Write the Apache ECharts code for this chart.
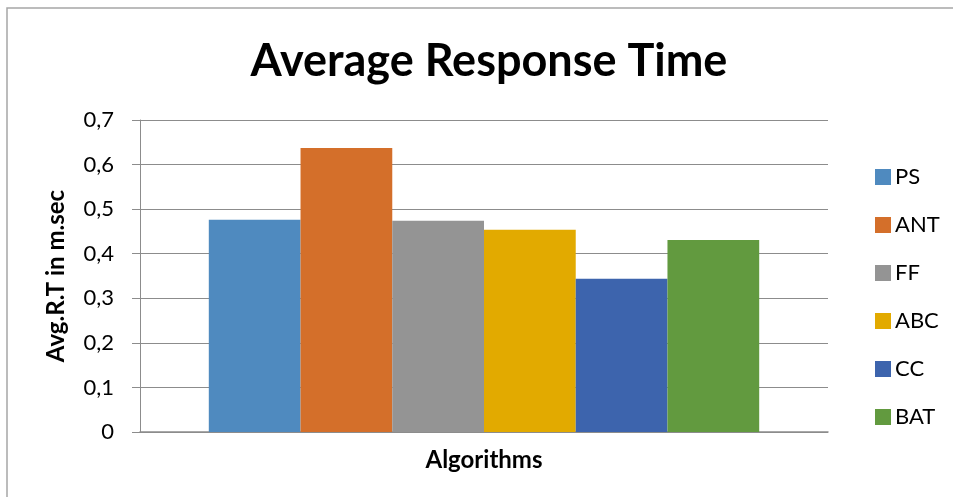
<!DOCTYPE html>
<html>
<head>
<meta charset="utf-8">
<script src="https://cdn.jsdelivr.net/npm/echarts@6/dist/echarts.min.js"></script>
<style>html,body{margin:0;padding:0;background:#fff;}#c{width:953px;height:497px;}</style>
</head>
<body>
<div id="c"></div>
<script>
const categories = ['Algorithms'];
const seriesNames = ['PS', 'ANT', 'FF', 'ABC', 'CC', 'BAT'];
const seriesValues = [[0.476], [0.637], [0.474], [0.454], [0.344], [0.431]];
const colors = ['#4f8abf', '#d46f2a', '#949494', '#e2aa00', '#3d64ad', '#629a3f'];
const yTicks = { min: 0, max: 0.7, interval: 0.1 };

const chart = echarts.init(document.getElementById('c'));
const FONT = 'Lato, "Open Sans", sans-serif';
chart.setOption({
  animation: false,
  graphic: [{
    type: 'rect', silent: true, z: -1,
    shape: { x: 7, y: 8, width: 960, height: 500 },
    style: { fill: 'none', stroke: '#a6a6a6', lineWidth: 1.5 }
  }],
  title: {
    text: 'Average Response Time',
    left: 484, top: 34, textAlign: 'center',
    textStyle: { fontFamily: FONT, fontSize: 45, fontWeight: 'bold', color: '#000' }
  },
  grid: { left: 140, right: 125, top: 120, bottom: 65, containLabel: false },
  legend: {
    orient: 'vertical', left: 870, top: 161, itemGap: 26,
    itemWidth: 16, itemHeight: 16, icon: 'rect',
    textStyle: { fontFamily: FONT, fontSize: 22, color: '#000', padding: [0, 0, 0, -1] },
    data: seriesNames
  },
  xAxis: {
    type: 'category', data: categories,
    name: 'Algorithms', nameLocation: 'middle', nameGap: 16,
    nameTextStyle: { fontFamily: FONT, fontSize: 24, fontWeight: 'bold', color: '#000' },
    axisLine: { lineStyle: { color: '#8c8c8c', width: 1.5 } },
    axisTick: { show: false },
    axisLabel: { show: false }
  },
  yAxis: {
    type: 'value', min: yTicks.min, max: yTicks.max, interval: yTicks.interval,
    name: 'Avg.R.T in m.sec', nameLocation: 'middle', nameGap: 72,
    nameTextStyle: { fontFamily: FONT, fontSize: 24, fontWeight: 'bold', color: '#000' },
    axisLine: { show: true, lineStyle: { color: '#8c8c8c', width: 1 } },
    axisTick: { show: true, inside: false, length: 8, lineStyle: { color: '#8c8c8c' } },
    axisLabel: {
      fontFamily: FONT, fontSize: 22, color: '#000', margin: 26,
      formatter: v => (Math.round(v * 10) / 10).toString().replace('.', ',')
    },
    splitLine: { lineStyle: { color: '#8c8c8c', width: 1.2 } }
  },
  series: seriesNames.map((n, i) => ({
    name: n, type: 'bar', data: seriesValues[i],
    barGap: '0%', barCategoryGap: '20%',
    itemStyle: { color: colors[i] }
  }))
});
</script>
</body>
</html>
